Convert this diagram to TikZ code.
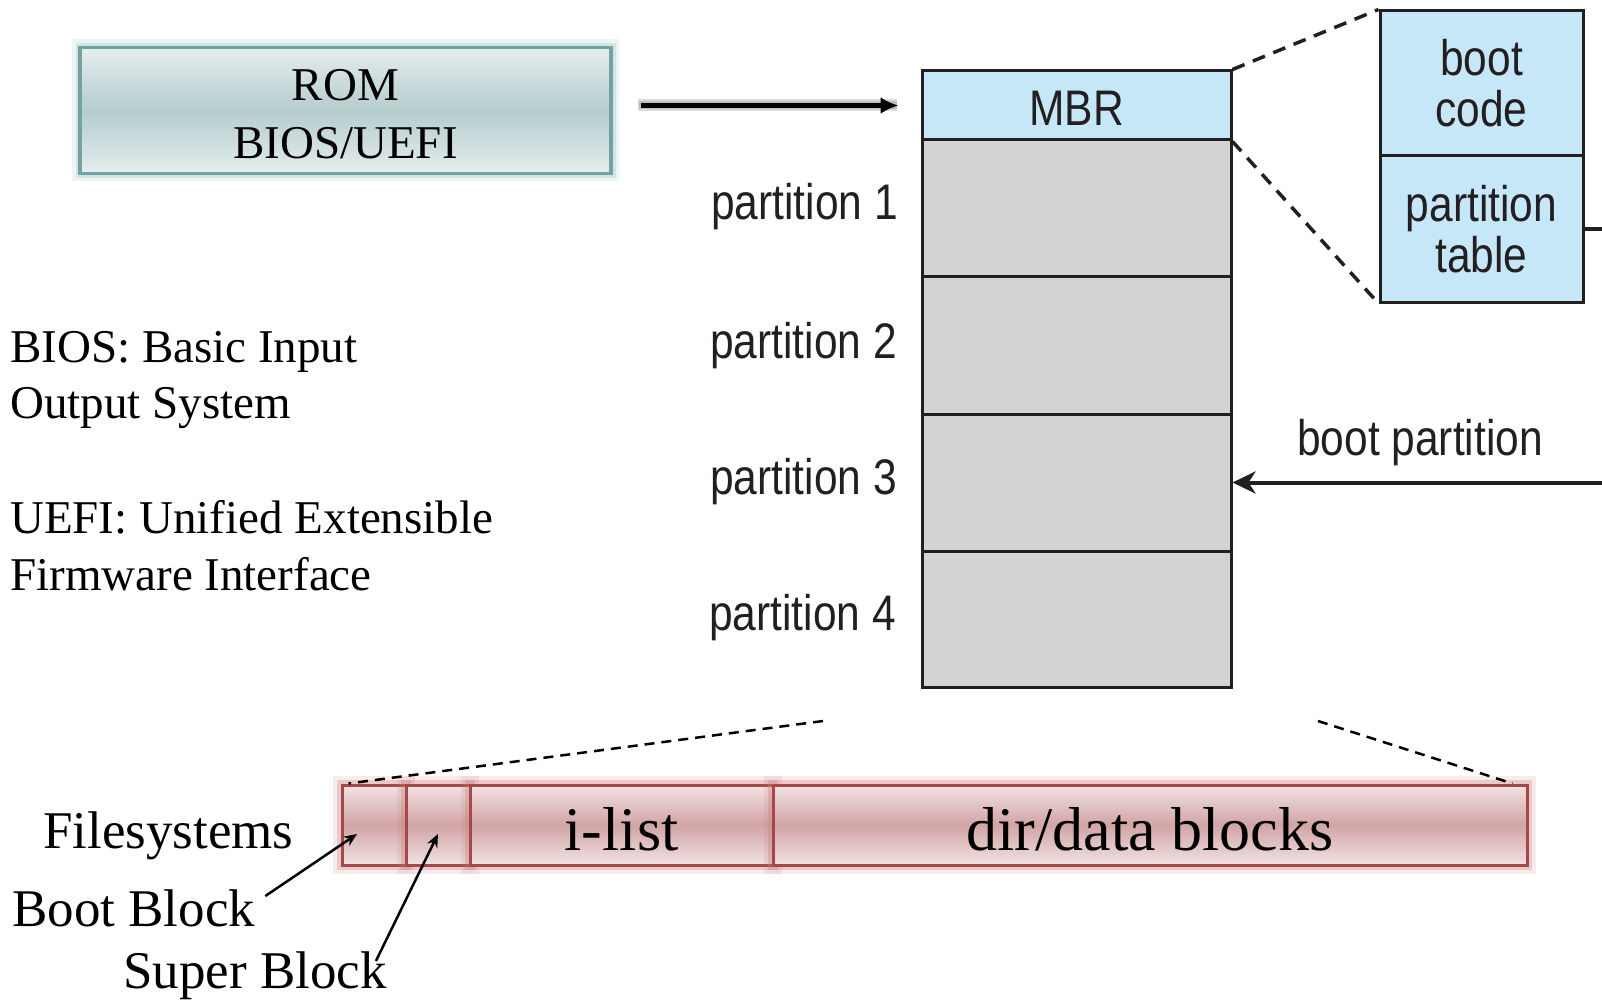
\documentclass[tikz,border=0pt]{standalone}
\usepackage{fontspec}
\setmainfont{Liberation Serif}
\newfontfamily\hv[FakeStretch=0.85]{Liberation Sans}
\usetikzlibrary{arrows.meta,calc}
\newcommand\fsz[2]{\fontsize{#1}{#2}\selectfont}
\definecolor{romborder}{HTML}{6FA3A4}
\definecolor{romlight}{HTML}{E6EEEE}
\definecolor{romdark}{HTML}{B5CCCD}
\definecolor{fsborder}{HTML}{A5484A}
\definecolor{fslight}{HTML}{F1E3E3}
\definecolor{fsdark}{HTML}{D2A4A5}
\definecolor{fsglow}{HTML}{C97A7B}
\definecolor{mbrblue}{HTML}{C6E7F8}
\definecolor{partgray}{HTML}{D1D3D4}
\definecolor{ink}{HTML}{231F20}
\begin{document}
\begin{tikzpicture}[x=1pt,y=-1pt,
  romstyle/.style={draw=romborder, line width=3.5pt, top color=romlight, bottom color=romlight, middle color=romdark,
    preaction={draw=romborder, line width=16pt, opacity=0.12},
    preaction={draw=romborder, line width=9pt, opacity=0.2},
    inner sep=0pt, align=center, font=\fsz{47}{58}},
  partcell/.style={draw=ink, line width=3pt, fill=partgray, minimum width=309pt, inner sep=0pt},
  bluecell/.style={draw=ink, line width=3pt, fill=mbrblue, inner sep=0pt, text=ink},
  plabel/.style={anchor=base east, inner sep=0pt, font=\hv\fsz{50}{51}, text=ink},
  sansbox/.style={font=\hv\fsz{50}{51}, align=center},
  fscell/.style={draw=fsborder, line width=3pt, top color=fslight, bottom color=fslight, middle color=fsdark,
    preaction={draw=fsglow, line width=18pt, opacity=0.15},
    preaction={draw=fsglow, line width=10pt, opacity=0.3},
    minimum height=80pt, inner sep=0pt, text height=50pt, text depth=0pt, font=\fsz{62}{70}},
  serifline/.style={anchor=base west, inner sep=0pt, font=\fsz{47}{56}},
  fslabel/.style={anchor=base west, inner sep=0pt, font=\fsz{53}{60}},
  topdash/.style={draw=ink, line width=3.5pt, dash pattern=on 13pt off 9pt},
  botdash/.style={draw=black, line width=2.5pt, dash pattern=on 10pt off 7pt},
  thinarrow/.style={draw=black, line width=2.5pt, -{Stealth[length=13pt,width=11pt]}}
]
\useasboundingbox (0,0) rectangle (1602,1000);

% ROM box
\node[romstyle, minimum width=531pt, minimum height=126pt] (rom) at (345.5,110.5)
  {\rule{0pt}{38pt}ROM\\BIOS/UEFI};

% MBR column
\node[bluecell, minimum width=309pt, minimum height=69pt, font=\hv\fsz{50}{51}, text height=40pt, text depth=0pt] (mbr) at (1076.5,105.5) {MBR};
\node[partcell, minimum height=136pt] (p1) at (1076.5,208) {};
\node[partcell, minimum height=138pt] (p2) at (1076.5,345) {};
\node[partcell, minimum height=137pt] (p3) at (1076.5,482.5) {};
\node[partcell, minimum height=136pt] (p4) at (1076.5,619) {};

\node[plabel] (l1) at (898,220) {partition 1};
\node[plabel] (l2) at (897,358) {partition 2};
\node[plabel] (l3) at (897,494) {partition 3};
\node[plabel] (l4) at (896,630) {partition 4};

% MBR detail
\node[bluecell, sansbox, minimum width=203pt, minimum height=145pt] (bootcode) at (1481.5,83.5) {boot\\code};
\node[bluecell, sansbox, minimum width=203pt, minimum height=146pt] (ptable) at (1481.5,229) {partition\\table};

\draw[topdash] (mbr.north east) -- (bootcode.north west);
\draw[topdash] (mbr.south east) -- (ptable.south west);

\coordinate (ptout) at (1602,229);
\draw[ink, line width=4.5pt] (ptable.east) -- (ptout);

\coordinate (bpin) at (1602,482.5);
\draw[ink, line width=4pt, -{Stealth[length=23pt,width=22pt,inset=7pt]}] (bpin) -- (p3.east);
\node[anchor=base, inner sep=0pt, font=\hv\fsz{50}{51}, text=ink] (bplabel) at (1420,455) {boot partition};

% ROM -> MBR arrow
\draw[gray, opacity=0.3, line width=12pt, shorten <=25pt, shorten >=24pt] (rom.east |- mbr.west) -- (mbr.west);
\draw[gray, opacity=0.3, line width=8pt, shorten <=26pt, shorten >=24pt] (rom.east |- mbr.west) -- (mbr.west);
\draw[black, line width=5pt, shorten <=28pt, shorten >=22pt, -{Latex[length=18pt,width=17pt]}] (rom.east |- mbr.west) -- (mbr.west);

% left notes
\node[serifline] (t1) at (10,362) {BIOS: Basic Input};
\node[serifline] (t2) at (10,418) {Output System};
\node[serifline] (t3) at (10,533) {UEFI: Unified Extensible};
\node[serifline] (t4) at (10,590) {Firmware Interface};

% filesystem
\node[fscell, minimum width=64pt] (bb) at (374,825) {};
\node[fscell, minimum width=64pt] (sb) at (438,825) {};
\node[fscell, minimum width=303pt] (il) at (621.5,825) {i-list};
\node[fscell, minimum width=754pt] (dd) at (1150,825) {dir/data blocks};

\coordinate (fl) at (823,721);
\coordinate (fr) at (1318,721);
\draw[botdash] (fl) -- ([xshift=8pt]bb.north west);
\draw[botdash] (fr) -- ([xshift=-16pt]dd.north east);

\node[fslabel] (fsl) at (43,848) {Filesystems};
\node[fslabel] (bbl) at (12,926) {Boot Block};
\node[fslabel] (sbl) at (123,988) {Super Block};

\draw[thinarrow] ([shift={(10pt,-7pt)}]bbl.north east) -- ([shift={(-17pt,-9pt)}]bb.center);
\draw[thinarrow] ([shift={(-11pt,-10pt)}]sbl.north east) -- ([shift={(0pt,-9pt)}]sb.center);
\end{tikzpicture}
\end{document}
